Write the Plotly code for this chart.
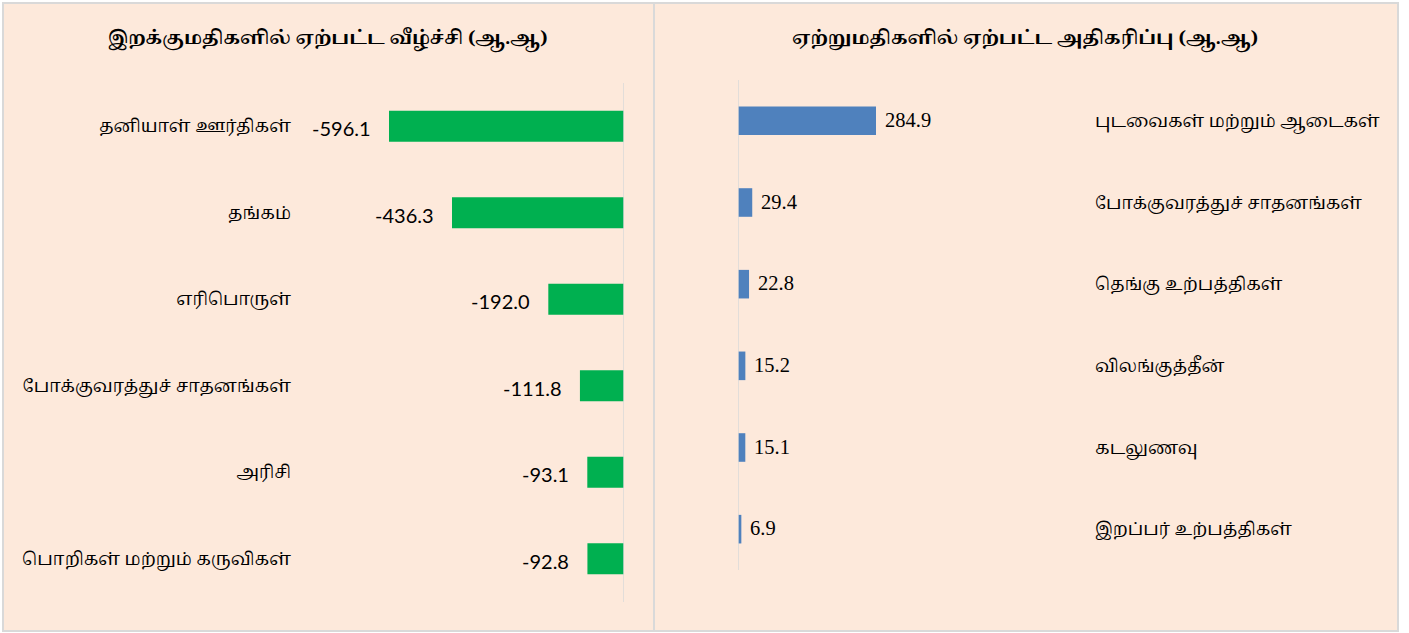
import plotly.graph_objects as go

W, H = 1409, 633

# ---- data ----
left_title = "இறக்குமதிகளில் ஏற்பட்ட வீழ்ச்சி (ஆ.ஆ)"
left_categories = ["தனியாள் ஊர்திகள்", "தங்கம்", "எரிபொருள்",
                   "போக்குவரத்துச் சாதனங்கள்", "அரிசி", "பொறிகள் மற்றும் கருவிகள்"]
left_values = [-596.1, -436.3, -192.0, -111.8, -93.1, -92.8]

right_title = "ஏற்றுமதிகளில் ஏற்பட்ட அதிகரிப்பு (ஆ.ஆ)"
right_categories = ["புடவைகள் மற்றும் ஆடைகள்", "போக்குவரத்துச் சாதனங்கள்",
                    "தெங்கு உற்பத்திகள்", "விலங்குத்தீன்", "கடலுணவு", "இறப்பர் உற்பத்திகள்"]
right_values = [284.9, 29.4, 22.8, 15.2, 15.1, 6.9]

PEACH = "#FDE9DB"
BORDER = "#D9D9D9"
GREEN = "#00B050"
BLUE = "#4F81BD"
TAMIL = "Noto Serif Tamil, Noto Sans Tamil, Lohit Tamil, Latha, serif"

def px(x):
    return x / W

def py(y):
    return 1 - y / H

fig = go.Figure()

fig.add_trace(go.Bar(
    x=left_values, y=left_categories, orientation="h",
    marker=dict(color=GREEN, line=dict(width=0)), width=0.36,
    xaxis="x", yaxis="y", showlegend=False, hoverinfo="x+y",
))
fig.add_trace(go.Bar(
    x=right_values, y=right_categories, orientation="h",
    marker=dict(color=BLUE, line=dict(width=0)), width=0.35,
    xaxis="x2", yaxis="y2", showlegend=False, hoverinfo="x+y",
))

annotations = []
for c, v in zip(left_categories, left_values):
    annotations.append(dict(
        x=v, y=c, xref="x", yref="y", text=f"{v:.1f}", showarrow=False,
        xanchor="right", yanchor="middle", xshift=-16, yshift=-2,
        font=dict(family="Lato, Carlito, sans-serif", size=20, color="#000000"),
    ))
for c, v in zip(right_categories, right_values):
    annotations.append(dict(
        x=v, y=c, xref="x2", yref="y2", text=f"{v:.1f}", showarrow=False,
        xanchor="left", yanchor="middle", xshift=7, yshift=1,
        font=dict(family="Liberation Serif, Times New Roman, serif", size=20.5, color="#000000"),
    ))
annotations.append(dict(
    x=px(328), y=py(39), xref="paper", yref="paper", text=f"<b>{left_title}</b>",
    showarrow=False, xanchor="center", yanchor="middle",
    font=dict(family=TAMIL, size=18.5, color="#000000"),
))
annotations.append(dict(
    x=px(1025), y=py(39), xref="paper", yref="paper", text=f"<b>{right_title}</b>",
    showarrow=False, xanchor="center", yanchor="middle",
    font=dict(family=TAMIL, size=18.5, color="#000000"),
))

shapes = [
    dict(type="rect", xref="paper", yref="paper", x0=px(3), x1=px(654), y0=py(631), y1=py(3),
         fillcolor=PEACH, line=dict(color=BORDER, width=2), layer="below"),
    dict(type="rect", xref="paper", yref="paper", x0=px(654), x1=px(1398), y0=py(631), y1=py(3),
         fillcolor=PEACH, line=dict(color=BORDER, width=2), layer="below"),
    # category axis lines at zero
    dict(type="line", xref="x", yref="paper", x0=0, x1=0, y0=py(602), y1=py(83),
         line=dict(color=BORDER, width=1.5)),
    dict(type="line", xref="x2", yref="paper", x0=0, x1=0, y0=py(570), y1=py(80),
         line=dict(color=BORDER, width=1.5)),
]

left_scale = 235 / 596.1
right_scale = 138 / 284.9
lx0, lx1 = 296, 624
rx0, rx1 = 738, 1088

fig.update_layout(
    width=W, height=H,
    margin=dict(l=0, r=0, t=0, b=0),
    paper_bgcolor="#FFFFFF", plot_bgcolor="rgba(0,0,0,0)",
    bargap=0.64,
    xaxis=dict(domain=[px(lx0), px(lx1)], range=[-(lx1 - lx0) / left_scale, 0],
               showgrid=False, zeroline=False, showticklabels=False, showline=False,
               fixedrange=True),
    yaxis=dict(domain=[py(602), py(83)], autorange="reversed", anchor="x",
               showgrid=False, zeroline=False, showline=False, ticks="",
               tickfont=dict(family=TAMIL, size=17.3, color="#000000"),
               ticklabelstandoff=4, fixedrange=True),
    xaxis2=dict(domain=[px(rx0), px(rx1)], range=[0, (rx1 - rx0) / right_scale],
                anchor="y2", showgrid=False, zeroline=False, showticklabels=False,
                showline=False, fixedrange=True),
    yaxis2=dict(domain=[py(570), py(80)], autorange="reversed", anchor="x2", side="right",
                showgrid=False, zeroline=False, showline=False, ticks="",
                tickfont=dict(family=TAMIL, size=17.2, color="#000000"),
                ticklabelstandoff=6, fixedrange=True),
    annotations=annotations,
    shapes=shapes,
)

fig.write_html("out.html", config={"displayModeBar": False},
               post_script="document.body.style.margin='0';document.body.style.overflow='hidden';")
